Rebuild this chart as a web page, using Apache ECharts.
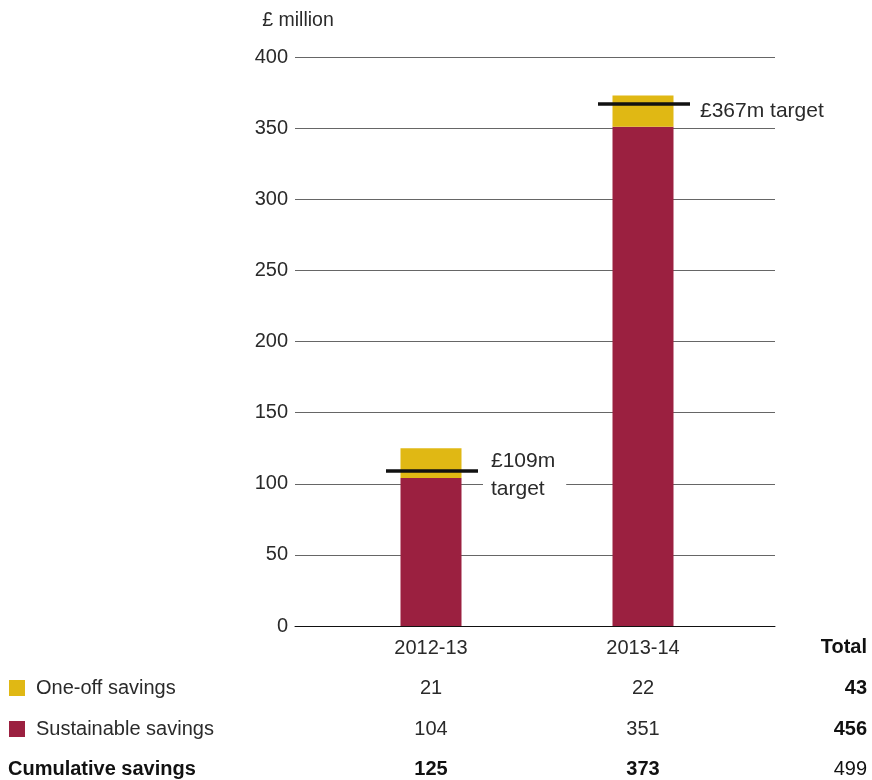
<!DOCTYPE html>
<html><head><meta charset="utf-8">
<script src="https://cdn.jsdelivr.net/npm/echarts@6/dist/echarts.min.js"></script>
<style>html,body{margin:0;padding:0;background:#fff}#c{width:872px;height:780px}</style>
</head><body><div id="c"></div>
<script>
const categories = ['2012-13', '2013-14'];
const oneOff = [21, 22];
const sustainable = [104, 351];
const targets = [109, 367];
const targetLabels = ['£109m\ntarget', '£367m target'];
const cumulative = [125, 373];
const totals = [43, 456, 499];
const rowNames = ['One-off savings', 'Sustainable savings', 'Cumulative savings'];
const yTicks = [0, 50, 100, 150, 200, 250, 300, 350, 400];

const FONT = '"Liberation Sans", Arial, sans-serif';
const TXT = '#2a2a2a';
const GOLD = '#e0b814';
const MAROON = '#9b2040';

const chart = echarts.init(document.getElementById('c'));
const option = {
  animation: false,
  backgroundColor: '#fff',
  textStyle: { fontFamily: FONT },
  grid: [
    { left: 295, right: 97, top: 57, bottom: 154 },
    { left: 325, right: 123, top: 57, bottom: 154 }
  ],
  xAxis: [
    { gridIndex: 0, type: 'category', data: categories, axisLine: { show: true, lineStyle: { color: '#111', width: 1 } },
      axisTick: { show: false }, axisLabel: { show: false }, splitLine: { show: false } },
    { gridIndex: 1, type: 'category', data: categories, axisLine: { show: false }, axisTick: { show: false },
      axisLabel: { show: true, margin: 12, fontSize: 20, color: TXT, fontFamily: FONT } }
  ],
  yAxis: [
    { gridIndex: 0, type: 'value', min: yTicks[0], max: yTicks[yTicks.length - 1], interval: 50,
      name: '£ million', nameLocation: 'end', nameGap: 26,
      nameTextStyle: { fontSize: 19.5, color: TXT, fontFamily: FONT, align: 'center', padding: [0, 0, 0, 6] },
      axisLine: { show: false }, axisTick: { show: false },
      axisLabel: { fontSize: 20, color: TXT, margin: 7, fontFamily: FONT },
      splitLine: { show: true, lineStyle: { color: '#666', width: 1 } } },
    { gridIndex: 1, type: 'value', min: yTicks[0], max: yTicks[yTicks.length - 1], interval: 50,
      show: false, splitLine: { show: false } }
  ],
  series: [
    { name: 'Sustainable savings', type: 'bar', xAxisIndex: 1, yAxisIndex: 1, stack: 's', barWidth: 61,
      itemStyle: { color: MAROON }, data: sustainable },
    { name: 'One-off savings', type: 'bar', xAxisIndex: 1, yAxisIndex: 1, stack: 's', barWidth: 61,
      itemStyle: { color: GOLD }, data: oneOff },
    { name: 'Target', type: 'custom', xAxisIndex: 1, yAxisIndex: 1, z: 10,
      data: targets.map((v, i) => [i, v]),
      renderItem: function (params, api) {
        const i = params.dataIndex;
        const p = api.coord([api.value(0), api.value(1)]);
        const children = [
          { type: 'line', shape: { x1: p[0] - 45, y1: p[1], x2: p[0] + 47, y2: p[1] },
            style: { stroke: '#111', lineWidth: 3.5 } }
        ];
        if (i === 0) {
          children.push({ type: 'text', x: p[0] + 52, y: p[1] - 24,
            style: { text: targetLabels[i], fill: TXT, font: '21px ' + FONT, lineHeight: 28,
              backgroundColor: '#fff', padding: [0, 11, 2, 8] } });
        } else {
          children.push({ type: 'text', x: p[0] + 55, y: p[1] + 7,
            style: { text: targetLabels[i], fill: TXT, font: '21px ' + FONT, verticalAlign: 'middle',
              backgroundColor: '#fff', padding: [2, 4, 2, 2] } });
        }
        return { type: 'group', children: children };
      }
    }
  ]
};
chart.setOption(option);

// Table below the chart, columns aligned with the category axis
const colX = categories.map((c) => chart.convertToPixel({ xAxisIndex: 1 }, c));
const rowY = [688, 729, 769];
const totalX = 867;
const g = [];
g.push({ type: 'text', x: totalX, y: 647, style: { text: 'Total', font: 'bold 20px ' + FONT, fill: '#111', align: 'right', verticalAlign: 'middle' } });
const rowsVals = [oneOff, sustainable, cumulative];
const rowColors = [GOLD, MAROON, null];
rowNames.forEach((name, r) => {
  const bold = r === 2;
  if (rowColors[r]) {
    g.push({ type: 'rect', shape: { x: 9, y: rowY[r] - 8, width: 16, height: 16 }, style: { fill: rowColors[r] } });
  }
  g.push({ type: 'text', x: bold ? 8 : 36, y: rowY[r], style: { text: name, font: (bold ? 'bold ' : '') + '20px ' + FONT, fill: bold ? '#111' : TXT, verticalAlign: 'middle' } });
  rowsVals[r].forEach((v, i) => {
    g.push({ type: 'text', x: colX[i], y: rowY[r], style: { text: String(v), font: (bold ? 'bold ' : '') + '20px ' + FONT, fill: bold ? '#111' : TXT, align: 'center', verticalAlign: 'middle' } });
  });
  g.push({ type: 'text', x: totalX, y: rowY[r], style: { text: String(totals[r]), font: (r < 2 ? 'bold ' : '') + '20px ' + FONT, fill: '#111', align: 'right', verticalAlign: 'middle' } });
});
chart.setOption({ graphic: g });
</script>
</body></html>
